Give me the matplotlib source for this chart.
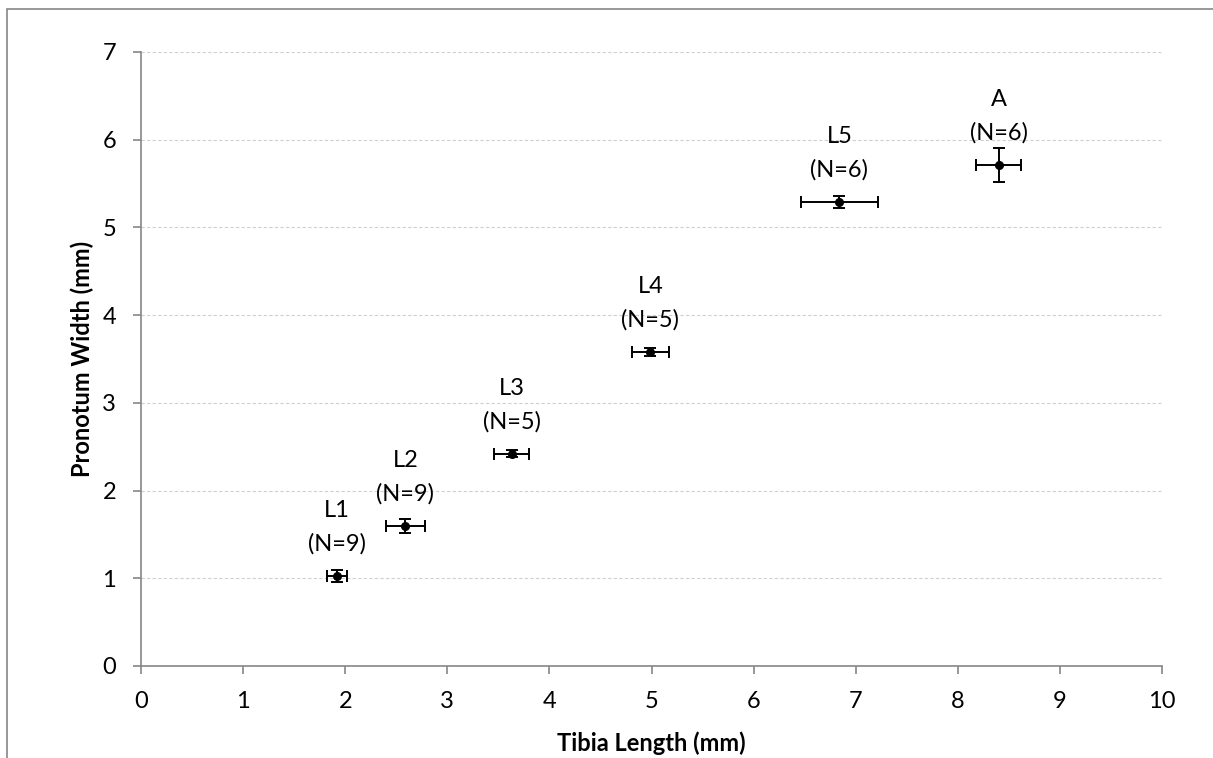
"""Pronotum width vs tibia length for each instar, with SD error bars."""
import matplotlib.pyplot as plt
import matplotlib.patches as mpatches

plt.rcParams['font.family'] = ['Lato', 'DejaVu Sans']

# Data
stages = ['L1', 'L2', 'L3', 'L4', 'L5', 'A']
n_counts = [9, 9, 5, 5, 6, 6]
tibia = [1.92, 2.59, 3.63, 4.99, 6.84, 8.40]
tibia_err = [0.10, 0.195, 0.17, 0.18, 0.38, 0.22]
pronotum = [1.03, 1.60, 2.42, 3.58, 5.29, 5.71]
pronotum_err = [0.07, 0.08, 0.04, 0.05, 0.065, 0.19]

fig = plt.figure(figsize=(12.13, 7.58), dpi=100)
ax = fig.add_axes([141 / 1213, 92 / 758, 1021 / 1213, 614 / 758])

# outer chart border (only left/top show in the crop)
border = mpatches.Rectangle((7 / 1213, -0.2), 1.2, 1.2 - 9 / 758, transform=fig.transFigure,
                            fill=False, edgecolor='#868686', linewidth=1.2, clip_on=False)
fig.patches.append(border)

ax.errorbar(tibia, pronotum, xerr=tibia_err, yerr=pronotum_err, fmt='o', color='black',
            markersize=5.5, elinewidth=1.4, capsize=4.5, capthick=1.4, zorder=3)

# two-line data labels above each point
for x, y, lab, n in zip(tibia, pronotum, stages, n_counts):
    ax.annotate(f'(N={n})', (x, y), xytext=(0, 23), textcoords='offset points',
                ha='center', va='center', fontsize=17)
    ax.annotate(lab, (x, y), xytext=(0, 47), textcoords='offset points',
                ha='center', va='center', fontsize=17)

ax.set_xlim(0, 10)
ax.set_ylim(0, 7)
ax.set_xticks(range(0, 11))
ax.set_yticks(range(0, 8))
ax.yaxis.grid(True, linestyle=(0, (3, 2)), color='#d0d0d0', linewidth=0.8)
ax.set_axisbelow(True)

for side in ['top', 'right']:
    ax.spines[side].set_visible(False)
for side in ['left', 'bottom']:
    ax.spines[side].set_color('#868686')
    ax.spines[side].set_linewidth(1.2)
ax.tick_params(axis='both', colors='#868686', labelcolor='black', labelsize=17,
               width=1.2, length=6, direction='out')
ax.tick_params(axis='y', pad=12)
ax.tick_params(axis='x', pad=12)

ax.set_xlabel('Tibia Length (mm)', fontsize=17, fontweight='bold', labelpad=14)
ax.set_ylabel('Pronotum Width (mm)', fontsize=17, fontweight='bold', labelpad=6)

fig.savefig('out.png', dpi=100)
